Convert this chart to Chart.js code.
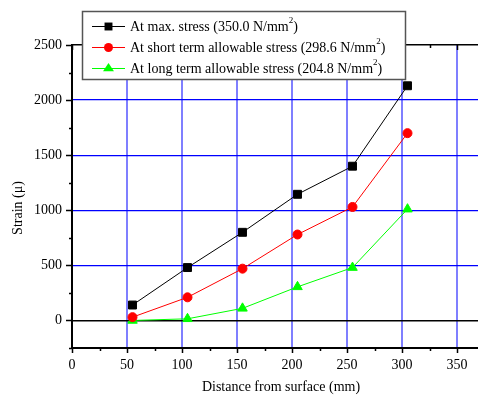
<!DOCTYPE html>
<html>
<head>
<meta charset="utf-8">
<title>Strain vs distance from surface</title>
<script src="https://cdn.jsdelivr.net/npm/chart.js@4"></script>
<style>
    html, body { margin: 0; padding: 0; background: #fff; overflow: hidden; }
    #wrap { width: 500px; height: 396px; }
</style>
</head>
<body>
<div id="wrap"><canvas id="strainChart" width="500" height="396"></canvas></div>
<script>
const distances = [55, 105, 155, 205, 255, 305];
const strainMax = [140, 480, 800, 1145, 1400, 2130];
const strainShort = [30, 210, 470, 780, 1030, 1700];
const strainLong = [0, 15, 110, 305, 480, 1010];

const seriesLabels = [
    'At max. stress (350.0 N/mm²)',
    'At short term allowable stress (298.6 N/mm²)',
    'At long term allowable stress (204.8 N/mm²)'
];

const xTicks = [0, 50, 100, 150, 200, 250, 300, 350];
const yTicks = [0, 500, 1000, 1500, 2000, 2500];

const SERIF = '"Liberation Serif", "Times New Roman", "DejaVu Serif", serif';

function toPoints(ys) {
    return distances.map((d, i) => ({ x: d, y: ys[i] }));
}

function drawMarker(ctx, style, x, y, r, color) {
    ctx.fillStyle = color;
    ctx.beginPath();
    if (style === 'rect') {
        const s = r * Math.SQRT1_2;
        ctx.rect(x - s, y - s, 2 * s, 2 * s);
    } else if (style === 'triangle') {
        const h = r * 1.5;
        const half = r * Math.sqrt(3) / 2;
        ctx.moveTo(x, y - h * 2 / 3);
        ctx.lineTo(x + half * 1.15, y + h / 3);
        ctx.lineTo(x - half * 1.15, y + h / 3);
        ctx.closePath();
    } else {
        ctx.arc(x, y, r, 0, Math.PI * 2);
    }
    ctx.fill();
}

// minor/major ticks, rotated y title and the boxed legend
const decorations = {
    id: 'decorations',
    afterDraw(chart) {
        const ctx = chart.ctx;
        const xs = chart.scales.x;
        const ys = chart.scales.y;
        const area = chart.chartArea;
        ctx.save();
        ctx.strokeStyle = '#000';
        ctx.lineWidth = 1.5;
        ctx.beginPath();
        for (let v = 0; v <= xs.max; v += 25) {
            const px = Math.round(xs.getPixelForValue(v)) + 0.5;
            const len = v % 50 === 0 ? 5 : 3;
            ctx.moveTo(px, area.bottom);
            ctx.lineTo(px, area.bottom + len);
            ctx.moveTo(px, area.top);
            ctx.lineTo(px, area.top + len);
        }
        for (let v = ys.min; v <= ys.max; v += 250) {
            const py = Math.round(ys.getPixelForValue(v)) + 0.5;
            const len = v % 500 === 0 ? 6 : 3;
            ctx.moveTo(area.left, py);
            ctx.lineTo(area.left - len, py);
        }
        ctx.stroke();

        // y axis title
        ctx.fillStyle = '#000';
        ctx.font = '14px ' + SERIF;
        ctx.textAlign = 'center';
        ctx.textBaseline = 'middle';
        ctx.translate(18, 208);
        ctx.rotate(-Math.PI / 2);
        ctx.fillText('Strain (μ)', 0, 0);
        ctx.setTransform(1, 0, 0, 1, 0, 0);

        // legend box
        const bx = 82, by = 11, bw = 323, bh = 68;
        ctx.fillStyle = '#fff';
        ctx.fillRect(bx, by, bw, bh);
        ctx.strokeStyle = '#555';
        ctx.lineWidth = 1.5;
        ctx.strokeRect(bx + 0.5, by + 0.5, bw, bh);

        chart.data.datasets.forEach((ds, i) => {
            const rowY = 26 + i * 21;
            ctx.strokeStyle = ds.borderColor;
            ctx.lineWidth = 1;
            ctx.beginPath();
            ctx.moveTo(92, rowY + 0.5);
            ctx.lineTo(125, rowY + 0.5);
            ctx.stroke();
            drawMarker(ctx, ds.pointStyle, 108.5, rowY + 0.5, ds.pointRadius, ds.pointBackgroundColor);

            const parts = ds.label.split('²');
            ctx.fillStyle = '#000';
            ctx.textAlign = 'left';
            ctx.textBaseline = 'middle';
            ctx.font = '14px ' + SERIF;
            let tx = 130;
            ctx.fillText(parts[0], tx, rowY + 1);
            tx += ctx.measureText(parts[0]).width;
            ctx.font = '9px ' + SERIF;
            ctx.fillText('2', tx, rowY - 5);
            tx += ctx.measureText('2').width;
            ctx.font = '14px ' + SERIF;
            ctx.fillText(parts[1], tx, rowY + 1);
        });
        ctx.restore();
    }
};

const chart = new Chart(document.getElementById('strainChart').getContext('2d'), {
    type: 'line',
    data: {
        datasets: [
            {
                label: seriesLabels[0],
                data: toPoints(strainMax),
                borderColor: '#000000',
                pointBackgroundColor: '#000000',
                pointBorderColor: '#000000',
                pointStyle: 'rect',
                pointRadius: 5.6,
                borderWidth: 1
            },
            {
                label: seriesLabels[1],
                data: toPoints(strainShort),
                borderColor: '#ff0000',
                pointBackgroundColor: '#ff0000',
                pointBorderColor: '#ff0000',
                pointStyle: 'circle',
                pointRadius: 4.5,
                borderWidth: 1
            },
            {
                label: seriesLabels[2],
                data: toPoints(strainLong),
                borderColor: '#00ff00',
                pointBackgroundColor: '#00ff00',
                pointBorderColor: '#00ff00',
                pointStyle: 'triangle',
                pointRadius: 5.5,
                borderWidth: 1
            }
        ]
    },
    options: {
        responsive: false,
        animation: false,
        devicePixelRatio: 1,
        layout: { padding: { top: 45, right: 10, left: 0, bottom: 0 } },
        plugins: { legend: { display: false }, tooltip: { enabled: false } },
        scales: {
            x: {
                type: 'linear',
                min: 0,
                max: 380,
                afterBuildTicks: scale => { scale.ticks = xTicks.map(v => ({ value: v })); },
                afterFit: scale => { scale.height = 48; },
                grid: {
                    drawTicks: false,
                    color: c => (c.tick && c.tick.value === 0) ? 'rgba(0,0,0,0)' : '#7f7fff',
                    lineWidth: 2
                },
                border: { display: true, color: '#000', width: 2 },
                ticks: {
                    padding: 9,
                    color: '#000',
                    font: { family: SERIF, size: 14 },
                    callback: v => String(v)
                },
                title: {
                    display: true,
                    text: 'Distance from surface (mm)',
                    color: '#000',
                    font: { family: SERIF, size: 14 },
                    padding: { top: 0, bottom: 0 }
                }
            },
            y: {
                min: -250,
                max: 2500,
                afterBuildTicks: scale => { scale.ticks = yTicks.map(v => ({ value: v })); },
                afterFit: scale => { scale.width = 72; },
                grid: {
                    drawTicks: false,
                    color: c => {
                        const v = c.tick ? c.tick.value : null;
                        return (v === 0 || v === 2500) ? '#000000' : '#0000ff';
                    },
                    lineWidth: c => {
                        const v = c.tick ? c.tick.value : null;
                        return (v === 0 || v === 2500) ? 1.5 : 1.2;
                    }
                },
                border: { display: true, color: '#000', width: 2 },
                ticks: {
                    padding: 10,
                    color: '#000',
                    font: { family: SERIF, size: 14 },
                    callback: v => String(v)
                }
            }
        }
    },
    plugins: [decorations]
});
</script>
</body>
</html>
